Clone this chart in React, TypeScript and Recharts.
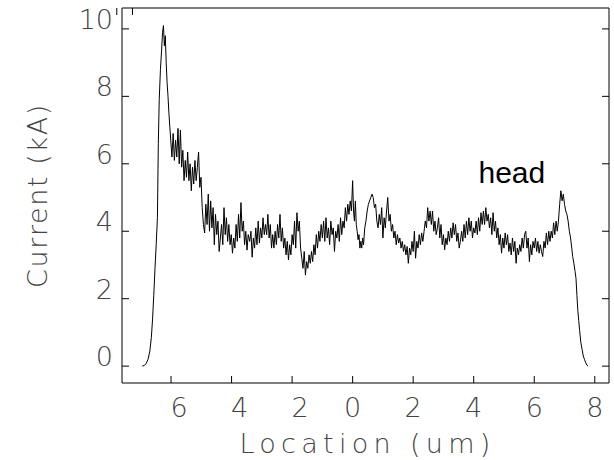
import React from 'react';
import { LineChart, Line, XAxis, YAxis, ReferenceDot, Label } from 'recharts';

// [location (um), current (kA)]
const leadingEdge: [number, number][] = [
  [-6.95, 0.0], [-6.88, 0.02], [-6.82, 0.08], [-6.76, 0.2], [-6.7, 0.45], [-6.65, 0.85], [-6.61, 1.4],
  [-6.57, 2.1], [-6.53, 2.9], [-6.49, 3.6], [-6.45, 4.4], [-6.42, 6.6], [-6.39, 7.9], [-6.35, 8.8],
  [-6.31, 9.4], [-6.28, 9.9], [-6.25, 10.1], [-6.22, 9.5], [-6.19, 9.8], [-6.16, 9.0], [-6.13, 8.4],
  [-6.1, 8.0], [-6.07, 7.5], [-6.04, 7.1], [-6.01, 6.7],
];

const tailBody: [number, number][] = [
  [-5.97, 6.2], [-5.93, 6.9], [-5.89, 6.1], [-5.85, 6.7], [-5.81, 6.2], [-5.77, 7.05], [-5.73, 6.0],
  [-5.69, 7.0], [-5.65, 5.9], [-5.61, 6.4], [-5.57, 5.5], [-5.53, 6.1], [-5.49, 5.6], [-5.45, 6.35],
  [-5.41, 5.5], [-5.37, 6.0], [-5.33, 5.2], [-5.29, 5.9], [-5.25, 5.4], [-5.21, 6.1], [-5.17, 5.5],
  [-5.13, 5.9], [-5.09, 6.35], [-5.05, 5.3], [-5.01, 5.6], [-4.97, 4.7], [-4.93, 4.2], [-4.89, 3.95],
  [-4.85, 4.8], [-4.81, 4.2], [-4.77, 5.1], [-4.73, 4.0], [-4.69, 4.9], [-4.65, 4.1], [-4.61, 4.7],
  [-4.57, 3.6], [-4.53, 4.5], [-4.49, 3.9], [-4.45, 4.3], [-4.41, 3.4], [-4.37, 3.8], [-4.33, 4.2],
  [-4.29, 3.6], [-4.25, 4.7], [-4.21, 3.9], [-4.17, 4.4], [-4.13, 3.7], [-4.09, 4.2], [-4.05, 3.6],
  [-4.01, 3.9], [-3.97, 3.35], [-3.93, 3.8], [-3.89, 3.5], [-3.85, 4.2], [-3.81, 3.7], [-3.77, 4.5],
  [-3.73, 3.8], [-3.69, 4.85], [-3.65, 4.0], [-3.61, 4.3], [-3.57, 3.6], [-3.53, 4.0], [-3.49, 3.44],
  [-3.45, 3.9],
  [-3.4, 3.7], [-3.36, 4.0], [-3.32, 3.23], [-3.28, 3.8], [-3.24, 3.5], [-3.2, 4.1], [-3.16, 3.6],
  [-3.12, 4.3], [-3.08, 3.65], [-3.04, 4.1], [-3.0, 3.8], [-2.96, 4.4], [-2.92, 3.9], [-2.88, 4.2],
  [-2.84, 3.9], [-2.8, 4.5], [-2.76, 3.8], [-2.72, 4.2], [-2.68, 3.5], [-2.64, 3.9], [-2.6, 3.5],
  [-2.56, 4.0], [-2.52, 3.6], [-2.48, 4.2], [-2.44, 3.8], [-2.4, 4.5], [-2.36, 3.7], [-2.32, 4.1],
  [-2.28, 3.5], [-2.24, 3.8], [-2.2, 3.3], [-2.16, 3.7], [-2.12, 3.15], [-2.08, 3.6], [-2.04, 3.3],
  [-2.0, 3.9], [-1.96, 3.6], [-1.92, 4.3], [-1.88, 3.5], [-1.84, 4.55], [-1.8, 4.0], [-1.76, 4.3],
  [-1.72, 3.5], [-1.68, 3.2], [-1.64, 2.9], [-1.6, 3.4], [-1.56, 2.7], [-1.52, 3.1], [-1.48, 2.9],
  [-1.44, 3.3], [-1.4, 3.05], [-1.36, 3.4], [-1.32, 3.1], [-1.28, 3.6], [-1.24, 3.3], [-1.2, 3.9],
  [-1.16, 3.5], [-1.12, 4.0], [-1.08, 3.7], [-1.04, 4.2], [-1.0, 3.8], [-0.96, 4.3], [-0.92, 3.7],
  [-0.88, 4.4], [-0.84, 3.8], [-0.8, 4.1], [-0.76, 3.6], [-0.72, 4.3], [-0.68, 3.9], [-0.64, 4.1],
  [-0.6, 3.4], [-0.56, 4.0], [-0.52, 3.8], [-0.48, 4.2], [-0.44, 3.7], [-0.4, 4.4], [-0.36, 3.9],
  [-0.32, 4.3], [-0.28, 4.1], [-0.24, 4.7], [-0.2, 4.3], [-0.16, 4.8], [-0.12, 4.5], [-0.08, 4.9],
  [-0.04, 4.6],
];

const headBody: [number, number][] = [
  [0.0, 5.5], [0.03, 4.6], [0.06, 4.3], [0.09, 4.9], [0.12, 4.2], [0.15, 4.0], [0.18, 3.75], [0.21, 3.9],
  [0.24, 3.5], [0.27, 3.7], [0.3, 3.5], [0.33, 3.8], [0.36, 3.6], [0.4, 4.1], [0.44, 4.3], [0.48, 4.6],
  [0.52, 4.8], [0.56, 4.9], [0.6, 5.0], [0.64, 5.1], [0.68, 5.0], [0.72, 4.7], [0.76, 4.8], [0.8, 4.3],
  [0.84, 4.1], [0.88, 4.5], [0.92, 4.2], [0.96, 4.7], [1.0, 3.8], [1.04, 4.4], [1.08, 4.1], [1.12, 4.6],
  [1.16, 5.0], [1.2, 4.3], [1.24, 4.5], [1.28, 4.0], [1.32, 4.2], [1.36, 3.8], [1.4, 4.0], [1.44, 3.6],
  [1.48, 3.9], [1.52, 3.65], [1.56, 3.8], [1.6, 3.5], [1.64, 3.7], [1.68, 3.4], [1.72, 3.6], [1.76, 3.3],
  [1.8, 3.55], [1.84, 3.05], [1.88, 3.5], [1.92, 3.3], [1.96, 3.7], [2.0, 3.4], [2.04, 4.0], [2.08, 3.2],
  [2.12, 3.7], [2.16, 3.5], [2.2, 3.9], [2.24, 3.6], [2.28, 3.95], [2.32, 3.7], [2.36, 4.0], [2.4, 4.3],
  [2.44, 4.1], [2.48, 4.7], [2.52, 4.3], [2.56, 4.6], [2.6, 4.2], [2.64, 4.6], [2.68, 4.0], [2.72, 4.3],
  [2.76, 3.9], [2.8, 4.1], [2.84, 4.4], [2.88, 3.8], [2.92, 4.2], [2.96, 3.6], [3.0, 3.9], [3.04, 3.45],
  [3.08, 3.8], [3.12, 3.6], [3.16, 4.0], [3.2, 3.7], [3.24, 4.1], [3.28, 3.8], [3.32, 4.25], [3.36, 3.9],
  [3.4, 4.2], [3.44, 3.7], [3.48, 3.95], [3.52, 3.5], [3.56, 3.7],
  [3.6, 4.0], [3.64, 3.7], [3.68, 4.2], [3.72, 3.8], [3.76, 4.3], [3.8, 3.9], [3.84, 4.4], [3.88, 4.0],
  [3.92, 4.3], [3.96, 3.8], [4.0, 4.1], [4.04, 3.95], [4.08, 4.3], [4.12, 3.9], [4.16, 4.4], [4.2, 4.0],
  [4.24, 4.55], [4.28, 4.2], [4.32, 4.6], [4.36, 4.2], [4.4, 4.7], [4.44, 4.3], [4.48, 4.5], [4.52, 4.1],
  [4.56, 4.4], [4.6, 3.9], [4.64, 4.55], [4.68, 4.0], [4.72, 4.3], [4.76, 3.8], [4.8, 4.1], [4.84, 3.6],
  [4.88, 3.9], [4.92, 3.35], [4.96, 3.8], [5.0, 3.5], [5.04, 3.95], [5.08, 3.6], [5.12, 3.9], [5.16, 3.4],
  [5.2, 3.65], [5.24, 3.3], [5.28, 3.8], [5.32, 3.4], [5.36, 3.7], [5.4, 3.05], [5.44, 3.5], [5.48, 3.3],
  [5.52, 3.6], [5.56, 3.4], [5.6, 3.8], [5.64, 3.5], [5.68, 3.9], [5.72, 4.0], [5.76, 3.5], [5.8, 3.8],
  [5.84, 3.1], [5.88, 3.6], [5.92, 3.3], [5.96, 3.7], [6.0, 3.5], [6.04, 3.8], [6.08, 3.4], [6.12, 3.7],
  [6.16, 3.35], [6.2, 3.6], [6.24, 3.4], [6.28, 3.25], [6.32, 3.7], [6.36, 3.5], [6.4, 3.95], [6.44, 3.6],
  [6.48, 4.0], [6.52, 3.7], [6.56, 4.0], [6.6, 3.8], [6.64, 4.25], [6.68, 3.9], [6.72, 4.3], [6.76, 4.0],
  [6.8, 4.3], [6.84, 4.8], [6.88, 5.2], [6.92, 4.9], [6.96, 5.1], [7.0, 4.8], [7.04, 4.6],
];

const trailingEdge: [number, number][] = [
  [7.08, 4.5], [7.12, 4.3], [7.16, 4.0], [7.2, 3.8], [7.24, 3.5], [7.27, 3.25], [7.31, 3.05], [7.35, 2.8],
  [7.38, 2.6], [7.41, 2.1], [7.44, 1.65], [7.47, 1.35], [7.5, 1.05], [7.54, 0.7], [7.58, 0.5], [7.62, 0.3],
  [7.66, 0.2], [7.7, 0.1], [7.74, 0.03], [7.78, 0.0],
];

const xTicks = [-6, -4, -2, 0, 2, 4, 6, 8];
const xTickLabels = ['6', '4', '2', '0', '2', '4', '6', '8'];
const yTicks = [0, 2, 4, 6, 8, 10];
const yTickLabels = ['0', '2', '4', '6', '8', '10'];
const xDomain: [number, number] = [-7.62, 8.47];
const yDomain: [number, number] = [-0.5, 10.62];
const headNote = { location: 5.26, current: 5.43, text: 'head' };

const data = [...leadingEdge, ...tailBody, ...headBody, ...trailingEdge].map(([location, current]) => ({
  location,
  current,
}));

const axisFont = { fontFamily: 'DejaVu Sans', fontWeight: 200, fontSize: 27, fill: '#444' };
const TICK_LEN = 7;
// recharts treats tickSize 0 as "use default", so keep a 1px size and account for it
const AXIS_TICK_SIZE = 1;
const X_LABEL_GAP = 33;
const Y_LABEL_GAP = 8;

// bottom axis: label plus an inward tick mark
function XTick({ x, y, payload }: any) {
  const i = xTicks.indexOf(payload.value);
  const axisY = y - X_LABEL_GAP - AXIS_TICK_SIZE;
  // negative labels sit a little right of their tick, as in the source plot
  const shift = payload.value < 0 ? 8 : 0;
  return (
    <g>
      <line x1={x} x2={x} y1={axisY} y2={axisY - TICK_LEN} stroke="#000" />
      <text x={x + shift} y={y} textAnchor="middle" {...axisFont}>
        {xTickLabels[i]}
      </text>
    </g>
  );
}

function YTick({ x, y, payload }: any) {
  const i = yTicks.indexOf(payload.value);
  const axisX = x + Y_LABEL_GAP + AXIS_TICK_SIZE;
  return (
    <g>
      <line x1={axisX} x2={axisX + TICK_LEN} y1={y} y2={y} stroke="#000" />
      <text x={x} y={y} textAnchor="end" {...axisFont}>
        {yTickLabels[i]}
      </text>
    </g>
  );
}

const TopTick = ({ x, y }: any) => {
  const axisY = y + AXIS_TICK_SIZE;
  return <line x1={x} x2={x} y1={axisY} y2={axisY + TICK_LEN} stroke="#000" />;
};
const RightTick = ({ x, y }: any) => {
  const axisX = x - AXIS_TICK_SIZE;
  return <line x1={axisX - TICK_LEN} x2={axisX} y1={y} y2={y} stroke="#000" />;
};

export default function App() {
  return (
    <div style={{ position: 'absolute', left: 0, top: 0, background: '#fff' }}>
      <LineChart width={614} height={460} data={data} margin={{ top: 7, right: 4, bottom: 0, left: 0 }}>
        <XAxis
          xAxisId="main"
          dataKey="location"
          type="number"
          domain={xDomain}
          ticks={xTicks}
          allowDataOverflow
          height={77}
          stroke="#000"
          tickLine={false}
          tickSize={AXIS_TICK_SIZE}
          tickMargin={X_LABEL_GAP}
          tick={<XTick />}
        >
          <Label
            content={({ viewBox }: any) => (
              <text
                x={viewBox.x + viewBox.width / 2 + 2}
                y={viewBox.y + 70}
                textAnchor="middle"
                {...axisFont}
                letterSpacing={5.3}
              >
                Location (um)
              </text>
            )}
          />
        </XAxis>
        <XAxis
          xAxisId="top"
          orientation="top"
          type="number"
          domain={xDomain}
          ticks={xTicks}
          allowDataOverflow
          height={1}
          stroke="#000"
          tickLine={false}
          tickSize={AXIS_TICK_SIZE}
          tickMargin={0}
          tick={<TopTick />}
        />
        <YAxis
          yAxisId="main"
          type="number"
          domain={yDomain}
          ticks={yTicks}
          allowDataOverflow
          width={122}
          stroke="#000"
          tickLine={false}
          tickSize={AXIS_TICK_SIZE}
          tickMargin={Y_LABEL_GAP}
          tick={<YTick />}
        >
          <Label
            content={({ viewBox }: any) => {
              const cx = viewBox.x + 47;
              const cy = viewBox.y + viewBox.height / 2;
              return (
                <text
                  x={cx}
                  y={cy}
                  textAnchor="middle"
                  transform={`rotate(-90 ${cx} ${cy})`}
                  {...axisFont}
                  letterSpacing={1.6}
                >
                  Current (kA)
                </text>
              );
            }}
          />
        </YAxis>
        <YAxis
          yAxisId="right"
          orientation="right"
          type="number"
          domain={yDomain}
          ticks={yTicks}
          allowDataOverflow
          width={1}
          stroke="#000"
          tickLine={false}
          tickSize={AXIS_TICK_SIZE}
          tickMargin={0}
          tick={<RightTick />}
        />
        <Line
          xAxisId="main"
          yAxisId="main"
          dataKey="current"
          type="linear"
          stroke="#000"
          strokeWidth={1}
          dot={false}
          isAnimationActive={false}
        />
        <ReferenceDot
          xAxisId="main"
          yAxisId="main"
          x={headNote.location}
          y={headNote.current}
          r={0}
          fill="none"
          stroke="none"
          label={({ viewBox }: any) => (
            <text
              x={viewBox.x + viewBox.width / 2}
              y={viewBox.y + viewBox.height / 2}
              textAnchor="middle"
              fontFamily="Liberation Sans, Arial, sans-serif"
              fontSize={30}
              fill="#000"
            >
              {headNote.text}
            </text>
          )}
        />
      </LineChart>
    </div>
  );
}
